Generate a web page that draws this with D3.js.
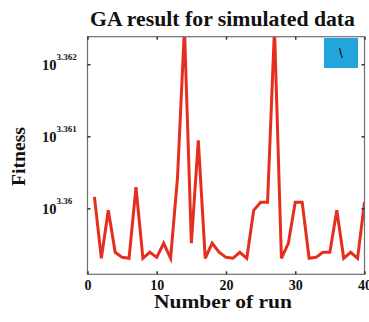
<!DOCTYPE html>
<html>
<head>
<meta charset="utf-8">
<script src="https://cdn.jsdelivr.net/npm/d3@7"></script>
<style>
  html, body { margin: 0; padding: 0; background: #fff; }
  svg { display: block; }
  text { font-family: "Liberation Serif", "Times New Roman", serif; font-weight: bold; fill: #111; }
</style>
</head>
<body>
<svg id="chart" width="369" height="322"></svg>
<script>
// Run index (1..40)
const runs = d3.range(1, 41);
// Fitness value of each GA run
const fitness = [
  2291.70, 2287.21, 2290.72, 2287.65, 2287.28, 2287.21, 2292.41, 2287.21, 2287.65, 2287.28,
  2288.31, 2287.21, 2293.14, 2304.10, 2288.31, 2295.85, 2287.21, 2288.31, 2287.65, 2287.28,
  2287.21, 2287.65, 2287.21, 2290.72, 2291.31, 2291.31, 2304.10, 2287.21, 2288.31, 2291.31,
  2291.31, 2287.21, 2287.28, 2287.65, 2287.65, 2290.72, 2287.21, 2287.65, 2287.21, 2291.31
];
// Axis ticks
const xTicks = [0, 10, 20, 30, 40];
const yTickExponents = ["3.36", "3.361", "3.362"];
const yDomain = [2286.04, 2303.47];

const svg = d3.select("#chart");
const m = { left: 87.5, right: 364.5, top: 36.7, bottom: 274.3 };

const x = d3.scaleLinear().domain([0, 40]).range([m.left, m.right]);
const y = d3.scaleLog().domain(yDomain).range([m.bottom, m.top]);

// Clip for the plot area
svg.append("defs").append("clipPath").attr("id", "plotClip")
  .append("rect")
  .attr("x", m.left).attr("y", m.top)
  .attr("width", m.right - m.left).attr("height", m.bottom - m.top);

// Title
svg.append("text")
  .attr("x", 90).attr("y", 26)
  .attr("textLength", 265).attr("lengthAdjust", "spacingAndGlyphs")
  .style("font-size", "22px")
  .text("GA result for simulated data");

// Data line
const line = d3.line()
  .x((d, i) => x(runs[i]))
  .y(d => y(d));

svg.append("path")
  .datum(fitness)
  .attr("clip-path", "url(#plotClip)")
  .attr("fill", "none")
  .attr("stroke", "#e62e1f")
  .attr("stroke-width", 3)
  .attr("stroke-linejoin", "miter")
  .attr("d", line);

// Frame
svg.append("rect")
  .attr("x", m.left).attr("y", m.top)
  .attr("width", m.right - m.left).attr("height", m.bottom - m.top)
  .attr("fill", "none").attr("stroke", "#6f6f6f").attr("stroke-width", 1.2);

// Bottom axis with labels
const xAxis = d3.axisBottom(x).tickValues(xTicks).tickSize(-3).tickPadding(6)
  .tickFormat(d3.format("d"));
const gx = svg.append("g").attr("transform", `translate(0,${m.bottom})`).call(xAxis);
gx.select(".domain").remove();
gx.selectAll("line").attr("stroke", "#333").attr("stroke-width", 1.5);
gx.selectAll("text").style("font-size", "14px")
  .style("font-family", "Liberation Serif, serif").style("font-weight", "bold").attr("fill", "#111");

// Top axis marks only
const gxt = svg.append("g").attr("transform", `translate(0,${m.top})`)
  .call(d3.axisTop(x).tickValues(xTicks).tickSize(-3).tickFormat(""));
gxt.select(".domain").remove();
gxt.selectAll("line").attr("stroke", "#333").attr("stroke-width", 1.5);

// Y ticks at powers of ten
const yTickVals = yTickExponents.map(e => Math.pow(10, +e));
const gy = svg.append("g").attr("transform", `translate(${m.left},0)`)
  .call(d3.axisLeft(y).tickValues(yTickVals).tickSize(-3).tickFormat(""));
gy.select(".domain").remove();
gy.selectAll("line").attr("stroke", "#333").attr("stroke-width", 1.5);

const gyr = svg.append("g").attr("transform", `translate(${m.right},0)`)
  .call(d3.axisRight(y).tickValues(yTickVals).tickSize(-3).tickFormat(""));
gyr.select(".domain").remove();
gyr.selectAll("line").attr("stroke", "#333").attr("stroke-width", 1.5);

// Y tick labels: 10 with superscript exponent
yTickExponents.forEach((e, i) => {
  const yy = y(yTickVals[i]);
  const t = svg.append("text")
    .attr("x", 42).attr("y", yy + 6)
    .style("font-size", "14.5px");
  t.append("tspan").text("10");
  t.append("tspan").attr("dy", -10).style("font-size", "9px").text(e);
});

// Axis titles
svg.append("text")
  .attr("x", 154).attr("y", 307.5)
  .attr("textLength", 138).attr("lengthAdjust", "spacingAndGlyphs")
  .style("font-size", "18.5px")
  .text("Number of run");

svg.append("text")
  .attr("transform", `translate(25,186) rotate(-90)`)
  .attr("textLength", 59).attr("lengthAdjust", "spacingAndGlyphs")
  .style("font-size", "19px")
  .text("Fitness");

// Legend box
const lg = svg.append("g").attr("transform", "translate(324,38)");
lg.append("rect").attr("width", 34).attr("height", 30).attr("fill", "#22a5dd");
lg.append("path")
  .attr("d", "M15.5,10 L17,15 L16,14 L18.5,20")
  .attr("fill", "none").attr("stroke", "#1b2a33").attr("stroke-width", 1.4);
</script>
</body>
</html>
